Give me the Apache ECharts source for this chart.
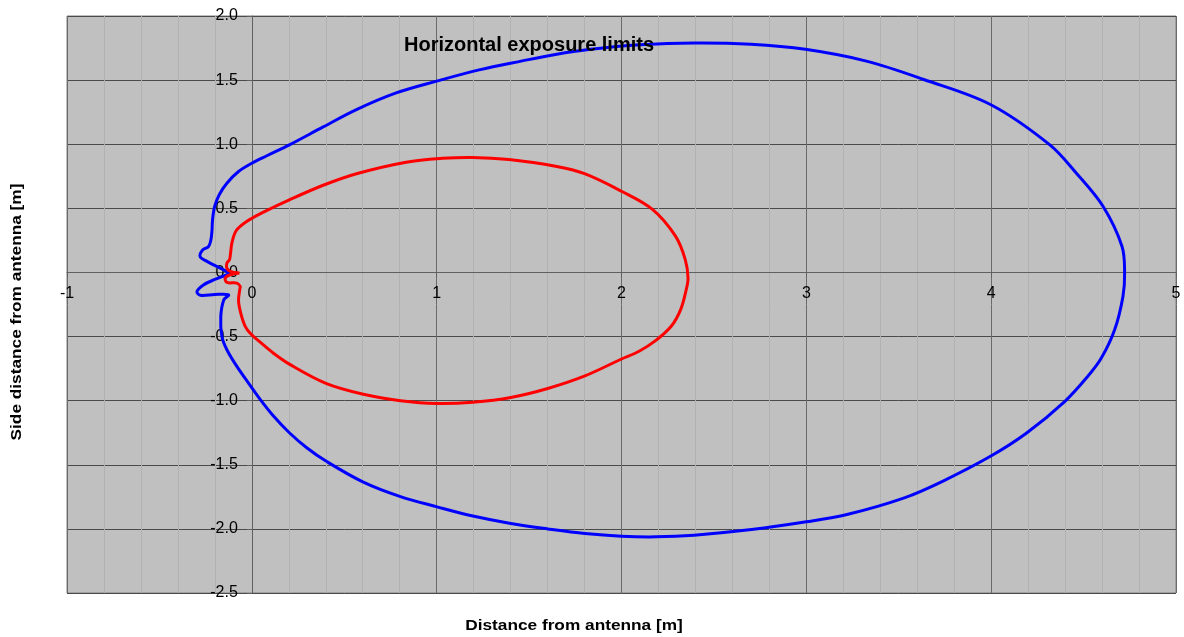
<!DOCTYPE html>
<html>
<head>
<meta charset="utf-8">
<script src="https://cdn.jsdelivr.net/npm/echarts@6/dist/echarts.min.js"></script>
<style>html,body{margin:0;padding:0;background:#fff;}#chart{width:1184px;height:637px;}</style>
</head>
<body>
<div id="chart"></div>
<script>
const titleText = 'Horizontal exposure limits';
const xName = 'Distance from antenna [m]';
const yName = 'Side distance from antenna [m]';
const seriesNames = ['Outer limit', 'Inner limit'];

const bluePoints = [
  [-0.117,-0.005],[-0.171,0.034],[-0.243,0.086],[-0.28,0.125],[-0.265,0.177],[-0.235,0.2],
  [-0.222,0.25],[-0.216,0.32],[-0.212,0.42],[-0.2,0.52],[-0.175,0.61],[-0.135,0.696],[-0.072,0.787],
  [0,0.852],[0.081,0.91],[0.206,0.997],[0.386,1.135],[0.566,1.27],[0.781,1.4],[1.0,1.492],
  [1.23,1.58],[1.463,1.65],[1.643,1.70],[1.822,1.738],[2.1,1.775],[2.396,1.79],[2.7,1.78],
  [2.995,1.74],[3.325,1.648],[3.635,1.505],[3.996,1.31],[4.316,0.997],[4.46,0.776],[4.605,0.516],
  [4.708,0.203],[4.722,0.0],[4.713,-0.187],[4.668,-0.447],[4.596,-0.668],[4.523,-0.81],[4.399,-1.005],
  [4.192,-1.252],[3.996,-1.434],[3.737,-1.629],[3.53,-1.758],[3.22,-1.888],[3.0,-1.945],[2.703,-2.005],
  [2.393,-2.049],[2.186,-2.062],[2.0,-2.057],[1.802,-2.036],[1.601,-2.0],[1.401,-1.958],[1.196,-1.9],
  [1.002,-1.828],[0.804,-1.748],[0.603,-1.635],[0.401,-1.471],[0.297,-1.367],[0.203,-1.25],[0.117,-1.12],
  [0.045,-0.99],[-0.018,-0.863],[-0.081,-0.733],[-0.135,-0.603],[-0.162,-0.5],[-0.168,-0.343],
  [-0.152,-0.214],[-0.126,-0.175],[-0.2,-0.172],[-0.279,-0.178],[-0.297,-0.149],[-0.262,-0.097],
  [-0.2,-0.055],[-0.135,-0.018],[-0.117,-0.005]
];

const redPoints = [
  [-0.067,-0.005],[-0.117,0.008],[-0.135,0.034],[-0.135,0.073],[-0.121,0.099],[-0.115,0.151],
  [-0.108,0.229],[-0.085,0.325],[-0.03,0.395],[0.063,0.47],[0.206,0.568],[0.386,0.68],[0.566,0.77],
  [0.835,0.86],[1.032,0.89],[1.194,0.897],[1.391,0.88],[1.643,0.828],[1.8,0.77],[2.0,0.633],
  [2.169,0.49],[2.293,0.281],[2.345,0.1],[2.36,-0.044],[2.35,-0.135],[2.32,-0.29],[2.269,-0.42],
  [2.186,-0.53],[2.095,-0.615],[2.0,-0.675],[1.802,-0.807],[1.601,-0.905],[1.401,-0.975],[1.196,-1.012],
  [1.002,-1.022],[0.804,-1.0],[0.603,-0.95],[0.401,-0.865],[0.203,-0.715],[0.117,-0.63],[0.05,-0.55],
  [-0.005,-0.48],[-0.036,-0.42],[-0.06,-0.317],[-0.072,-0.22],[-0.065,-0.13],[-0.063,-0.109],
  [-0.081,-0.083],[-0.135,-0.078],[-0.144,-0.044],[-0.117,-0.018],[-0.067,-0.005]
];

const xMin = -1, xMax = 5, xStep = 1;
const yMin = -2.5, yMax = 2.0, yStep = 0.5;

const chart = echarts.init(document.getElementById('chart'), null, {renderer: 'canvas'});
const font = '"Liberation Sans", Arial, sans-serif';

// Smooth curve through the data points, positioned with the chart's own scales (api.coord).
function curveSeries(name, points, color, z) {
  return {
    name: name, type: 'custom', data: points, z: z,
    encode: {x: 0, y: 1},
    renderItem: function (params, api) {
      if (params.dataIndex !== 0) return null;
      const pts = points.map(p => api.coord(p));
      return {
        type: 'polyline',
        shape: {points: pts, smooth: 0.35},
        style: {stroke: color, lineWidth: 3, fill: null, lineJoin: 'round'}
      };
    }
  };
}

function buildOption(xOffset, yOffset) {
  return {
    animation: false,
    backgroundColor: '#ffffff',
    textStyle: {fontFamily: font},
    grid: {
      left: 67, right: 8, top: 16, bottom: 44,
      show: true, backgroundColor: '#c0c0c0', borderColor: '#808080', borderWidth: 1
    },
    xAxis: {
      type: 'value', min: xMin, max: xMax, interval: xStep, position: 'bottom', offset: xOffset,
      axisLine: {show: true, onZero: false, lineStyle: {color: '#606060', width: 1}},
      axisTick: {show: true, length: 5, lineStyle: {color: '#606060'}},
      axisLabel: {color: '#000', fontSize: 16, margin: 13, fontFamily: font},
      splitLine: {show: true, lineStyle: {color: '#6a6a6a', width: 1}},
      minorTick: {show: false, splitNumber: 5},
      minorSplitLine: {show: true, lineStyle: {color: '#b2b2b2', width: 1}}
    },
    yAxis: {
      type: 'value', min: yMin, max: yMax, interval: yStep, position: 'left', offset: yOffset,
      axisLine: {show: true, onZero: false, lineStyle: {color: '#606060', width: 1}},
      axisTick: {show: true, length: 5, lineStyle: {color: '#606060'}},
      axisLabel: {color: '#000', fontSize: 16, margin: 14, fontFamily: font,
        formatter: v => v.toFixed(1)},
      splitLine: {show: true, lineStyle: {color: '#4a4a4a', width: 1}}
    },
    graphic: [
      {type: 'text', x: 404, y: 45, style: {text: titleText, font: 'bold 20px ' + font, fill: '#000', textAlign: 'left', textVerticalAlign: 'middle'}, z: 100},
      {type: 'text', x: 574, y: 626, scaleX: 1.15, style: {text: xName, font: 'bold 15px ' + font, fill: '#000', textAlign: 'center', textVerticalAlign: 'middle'}},
      {type: 'text', x: 17, y: 312, rotation: Math.PI / 2, scaleX: 1.15, style: {text: yName, font: 'bold 15px ' + font, fill: '#000', textAlign: 'center', textVerticalAlign: 'middle'}}
    ],
    series: [
      curveSeries(seriesNames[0], bluePoints, '#0000ff', 3),
      curveSeries(seriesNames[1], redPoints, '#ff0000', 4)
    ]
  };
}

chart.setOption(buildOption(0, 0));
// Move the axes onto the zero lines using the library's own scales.
const yZeroPx = chart.convertToPixel({yAxisIndex: 0}, 0);
const yBottomPx = chart.convertToPixel({yAxisIndex: 0}, yMin);
const xZeroPx = chart.convertToPixel({xAxisIndex: 0}, 0);
const xLeftPx = chart.convertToPixel({xAxisIndex: 0}, xMin);
chart.setOption(buildOption(-(yBottomPx - yZeroPx), -(xZeroPx - xLeftPx)), true);
</script>
</body>
</html>
